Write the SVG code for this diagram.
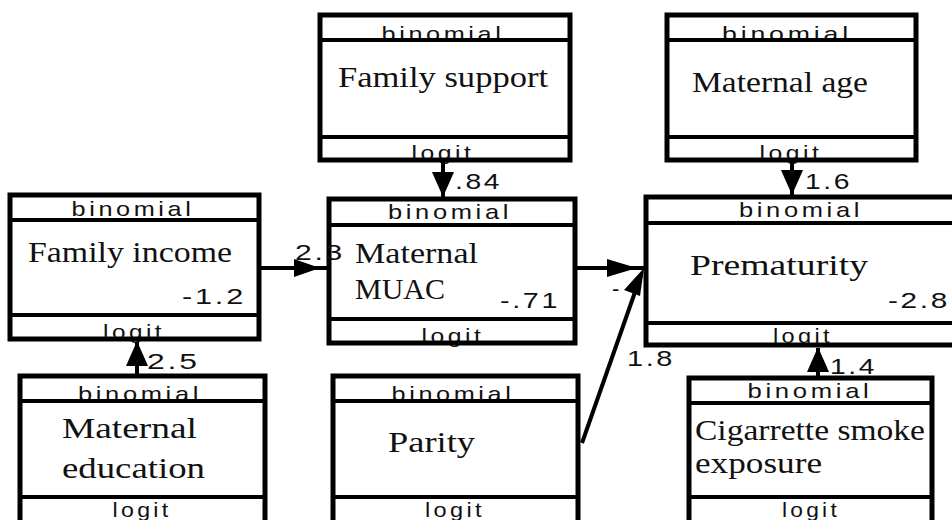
<svg xmlns="http://www.w3.org/2000/svg" width="952" height="520" viewBox="0 0 952 520">
<defs>
<style>
.box{fill:#fff;stroke:#000;stroke-width:5}
.sep{stroke:#000;stroke-width:4}
.hdr{font-family:"Liberation Sans",Arial,sans-serif;font-size:21px;letter-spacing:3px;fill:#111;text-anchor:middle}
.nm{font-family:"Liberation Serif","Times New Roman",serif;font-size:29px;fill:#111}
.num{font-family:"Liberation Sans",Arial,sans-serif;font-size:22px;letter-spacing:2px;fill:#111}
.ln{stroke:#000;stroke-width:4;fill:none}
.ah{fill:#000}
</style>
</defs>
<rect width="952" height="520" fill="#fff"/>

<g id="family-support">
<rect class="box" x="320" y="15" width="250" height="145"/>
<text class="hdr" x="443" y="41" textLength="123" lengthAdjust="spacingAndGlyphs">binomial</text>
<line class="sep" x1="320" y1="40" x2="570" y2="40"/>
<text class="nm" x="338" y="87" textLength="210" lengthAdjust="spacingAndGlyphs">Family support</text>
<line class="sep" x1="320" y1="137" x2="570" y2="137"/>
<text class="hdr" x="443" y="160" textLength="63" lengthAdjust="spacingAndGlyphs">logit</text>
<line class="sep" x1="320" y1="160" x2="570" y2="160"/>
</g>

<g id="maternal-age">
<rect class="box" x="667" y="15" width="249" height="145"/>
<text class="hdr" x="787" y="41" textLength="130" lengthAdjust="spacingAndGlyphs">binomial</text>
<line class="sep" x1="667" y1="40" x2="916" y2="40"/>
<text class="nm" x="692" y="92" textLength="176" lengthAdjust="spacingAndGlyphs">Maternal age</text>
<line class="sep" x1="667" y1="137" x2="916" y2="137"/>
<text class="hdr" x="791" y="160" textLength="63" lengthAdjust="spacingAndGlyphs">logit</text>
<line class="sep" x1="667" y1="160" x2="916" y2="160"/>
</g>

<g id="family-income">
<rect class="box" x="10" y="195" width="249" height="144"/>
<text class="hdr" x="133" y="216" textLength="123" lengthAdjust="spacingAndGlyphs">binomial</text>
<line class="sep" x1="10" y1="220" x2="259" y2="220"/>
<text class="nm" x="28" y="262" textLength="204" lengthAdjust="spacingAndGlyphs">Family income</text>
<text class="num" x="182" y="304" textLength="64" lengthAdjust="spacingAndGlyphs">-1.2</text>
<line class="sep" x1="10" y1="315" x2="259" y2="315"/>
<text class="hdr" x="134" y="339" textLength="62" lengthAdjust="spacingAndGlyphs">logit</text>
<line class="sep" x1="10" y1="339" x2="259" y2="339"/>
</g>

<g id="maternal-muac">
<rect class="box" x="329" y="199" width="246" height="144"/>
<text class="hdr" x="450" y="219" textLength="124" lengthAdjust="spacingAndGlyphs">binomial</text>
<line class="sep" x1="329" y1="225" x2="575" y2="225"/>
<text class="nm" x="355" y="263" textLength="123" lengthAdjust="spacingAndGlyphs">Maternal</text>
<text class="nm" x="355" y="299" textLength="90" lengthAdjust="spacingAndGlyphs">MUAC</text>
<text class="num" x="500" y="308" textLength="60" lengthAdjust="spacingAndGlyphs">-.71</text>
<line class="sep" x1="329" y1="319" x2="575" y2="319"/>
<text class="hdr" x="453" y="343" textLength="63" lengthAdjust="spacingAndGlyphs">logit</text>
<line class="sep" x1="329" y1="343" x2="575" y2="343"/>
</g>

<g id="prematurity">
<rect class="box" x="646" y="197" width="320" height="148"/>
<text class="hdr" x="801" y="217" textLength="124" lengthAdjust="spacingAndGlyphs">binomial</text>
<line class="sep" x1="646" y1="223" x2="966" y2="223"/>
<text class="nm" x="690" y="275" textLength="178" lengthAdjust="spacingAndGlyphs">Prematurity</text>
<text class="num" x="888" y="308" textLength="62" lengthAdjust="spacingAndGlyphs">-2.8</text>
<line class="sep" x1="646" y1="323" x2="966" y2="323"/>
<text class="hdr" x="803" y="343" textLength="60" lengthAdjust="spacingAndGlyphs">logit</text>
<line class="sep" x1="646" y1="345" x2="966" y2="345"/>
</g>

<g id="maternal-education">
<rect class="box" x="20" y="376" width="245" height="160"/>
<text class="hdr" x="140" y="401" textLength="124" lengthAdjust="spacingAndGlyphs">binomial</text>
<line class="sep" x1="20" y1="401" x2="265" y2="401"/>
<text class="nm" x="62" y="438" textLength="135" lengthAdjust="spacingAndGlyphs">Maternal</text>
<text class="nm" x="62" y="478" textLength="143" lengthAdjust="spacingAndGlyphs">education</text>
<line class="sep" x1="20" y1="497" x2="265" y2="497"/>
<text class="hdr" x="142" y="517" textLength="59" lengthAdjust="spacingAndGlyphs">logit</text>
</g>

<g id="parity">
<rect class="box" x="333" y="376" width="245" height="160"/>
<text class="hdr" x="453" y="401" textLength="123" lengthAdjust="spacingAndGlyphs">binomial</text>
<line class="sep" x1="333" y1="401" x2="578" y2="401"/>
<text class="nm" x="388" y="452" textLength="87" lengthAdjust="spacingAndGlyphs">Parity</text>
<line class="sep" x1="333" y1="497" x2="578" y2="497"/>
<text class="hdr" x="455" y="517" textLength="60" lengthAdjust="spacingAndGlyphs">logit</text>
</g>

<g id="cigarette-smoke">
<rect class="box" x="689" y="378" width="243" height="160"/>
<text class="hdr" x="810" y="398" textLength="125" lengthAdjust="spacingAndGlyphs">binomial</text>
<line class="sep" x1="689" y1="403" x2="932" y2="403"/>
<text class="nm" x="695" y="440" textLength="230" lengthAdjust="spacingAndGlyphs">Cigarrette smoke</text>
<text class="nm" x="695" y="473" textLength="127" lengthAdjust="spacingAndGlyphs">exposure</text>
<line class="sep" x1="689" y1="497" x2="932" y2="497"/>
<text class="hdr" x="811" y="517" textLength="58" lengthAdjust="spacingAndGlyphs">logit</text>
</g>

<g id="connectors">
<line class="ln" x1="443" y1="160" x2="443" y2="197"/>
<polygon class="ah" points="432,172 454,172 443,197"/>
<text class="num" x="455" y="189" textLength="47" lengthAdjust="spacingAndGlyphs">.84</text>

<line class="ln" x1="792" y1="160" x2="792" y2="195"/>
<polygon class="ah" points="781,170 803,170 792,195"/>
<text class="num" x="805" y="189" textLength="47" lengthAdjust="spacingAndGlyphs">1.6</text>

<line class="ln" x1="259" y1="268" x2="329" y2="268"/>
<polygon class="ah" points="294,259 294,277 320,268"/>
<text class="num" x="295" y="260" textLength="50" lengthAdjust="spacingAndGlyphs">2.3</text>

<line class="ln" x1="575" y1="268" x2="646" y2="268"/>
<polygon class="ah" points="607,259 607,277 637,268"/>
<text class="num" x="612" y="296">-</text>

<line class="ln" x1="582" y1="443" x2="641" y2="275"/>
<polygon class="ah" points="624,290 640,296 644,268"/>
<text class="num" x="627" y="366" textLength="48" lengthAdjust="spacingAndGlyphs">1.8</text>

<line class="ln" x1="818" y1="378" x2="818" y2="348"/>
<polygon class="ah" points="807,372 829,372 818,347"/>
<text class="num" x="830" y="374" textLength="47" lengthAdjust="spacingAndGlyphs">1.4</text>

<line class="ln" x1="137" y1="376" x2="137" y2="342"/>
<polygon class="ah" points="126,366 148,366 137,341"/>
<text class="num" x="147" y="369" textLength="53" lengthAdjust="spacingAndGlyphs">2.5</text>
</g>
</svg>
